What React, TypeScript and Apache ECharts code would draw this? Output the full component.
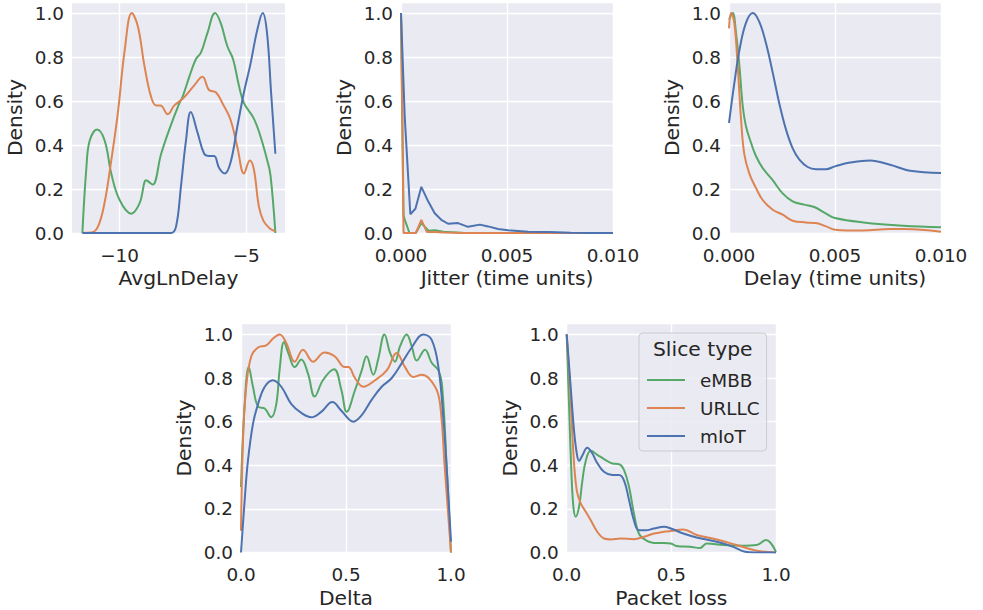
import React, { useEffect, useRef } from "react";
import * as echarts from "echarts";

// ---------- data ----------
const sliceTypes = ["eMBB", "URLLC", "mIoT"];
const sliceColors = ["#55A868", "#DD8452", "#4C72B0"];

const axisTitles = ["AvgLnDelay", "Jitter (time units)", "Delay (time units)", "Delta", "Packet loss"];
const yTitle = "Density";
const avgLnDelayTicks = [-10, -5];

const avgLnDelayEMBB = [
  [-11.47, 0], [-11.31, 0.3], [-11.18, 0.42], [-10.89, 0.47], [-10.59, 0.42], [-10.33, 0.27],
  [-10.0, 0.15], [-9.54, 0.088], [-9.21, 0.136], [-8.95, 0.24], [-8.82, 0.23], [-8.69, 0.22],
  [-8.36, 0.36], [-8.04, 0.47], [-7.64, 0.59], [-7.51, 0.62], [-7.25, 0.71], [-6.99, 0.79],
  [-6.79, 0.82], [-6.53, 0.91], [-6.23, 1.0], [-6.01, 0.955], [-5.75, 0.85], [-5.52, 0.79],
  [-5.29, 0.67], [-5.09, 0.59], [-4.7, 0.52], [-4.44, 0.44], [-4.17, 0.33], [-4.04, 0.26], [-3.85, 0],
];
const avgLnDelayURLLC = [
  [-11.47, 0], [-11.11, 0.002], [-10.85, 0.03], [-10.59, 0.14], [-10.33, 0.33], [-10.07, 0.545],
  [-9.8, 0.83], [-9.52, 1.0], [-9.28, 0.94], [-9.02, 0.76], [-8.76, 0.62], [-8.56, 0.58],
  [-8.39, 0.58], [-8.1, 0.54], [-7.84, 0.58], [-7.51, 0.61], [-7.06, 0.67], [-6.73, 0.71],
  [-6.47, 0.65], [-6.2, 0.64], [-5.94, 0.59], [-5.62, 0.515], [-5.35, 0.39], [-5.09, 0.27],
  [-4.86, 0.33], [-4.7, 0.29], [-4.5, 0.12], [-4.31, 0.053], [-4.04, 0.018], [-3.85, 0.008],
];
const avgLnDelayMIoT = [
  [-11.47, 0], [-7.97, 0], [-7.77, 0.03], [-7.58, 0.21], [-7.38, 0.42], [-7.19, 0.55],
  [-6.92, 0.455], [-6.66, 0.36], [-6.47, 0.35], [-6.27, 0.35], [-6.07, 0.295], [-5.85, 0.27],
  [-5.62, 0.32], [-5.35, 0.485], [-5.09, 0.64], [-4.83, 0.77], [-4.57, 0.92], [-4.35, 1.0],
  [-4.18, 0.91], [-4.02, 0.64], [-3.85, 0.36],
];

const jitterEMBB = [
  [0, 1.0], [0.00012, 0.08], [0.00018, 0.06], [0.0004, 0], [0.0007, 0], [0.00096, 0.045],
  [0.0013, 0.01], [0.0016, 0.012], [0.002, 0.006], [0.003, 0], [0.01, 0],
];
const jitterURLLC = [
  [0, 1.0], [0.00012, 0], [0.0007, 0], [0.00096, 0.06], [0.00122, 0.005], [0.0016, 0.004],
  [0.002, 0.002], [0.003, 0], [0.01, 0],
];
const jitterMIoT = [
  [0, 1.0], [0.000175, 0.53], [0.00044, 0.085], [0.00068, 0.11], [0.00096, 0.21], [0.00128, 0.144],
  [0.00159, 0.09], [0.0019, 0.06], [0.00222, 0.042], [0.00269, 0.045], [0.00316, 0.028],
  [0.00372, 0.038], [0.00411, 0.03], [0.00458, 0.018], [0.00505, 0.012], [0.006, 0.006],
  [0.007, 0.004], [0.008, 0.001], [0.009, 0], [0.01, 0],
];

const delayEMBB = [
  [0, 0.97], [0.000173, 1.0], [0.00033, 0.91], [0.00049, 0.76], [0.00065, 0.575], [0.0008, 0.485],
  [0.00104, 0.41], [0.00127, 0.35], [0.00159, 0.295], [0.00206, 0.24], [0.00253, 0.18],
  [0.003, 0.144], [0.00355, 0.129], [0.00402, 0.118], [0.00458, 0.088], [0.005, 0.068],
  [0.00634, 0.048], [0.00821, 0.033], [0.01, 0.026],
];
const delayURLLC = [
  [0, 0.93], [0.0001, 1.0], [0.00025, 0.955], [0.00041, 0.76], [0.00057, 0.515], [0.00072, 0.36],
  [0.00096, 0.27], [0.00127, 0.205], [0.00159, 0.15], [0.00206, 0.106], [0.00253, 0.083],
  [0.003, 0.056], [0.00363, 0.048], [0.0041, 0.045], [0.00458, 0.03], [0.005, 0.015],
  [0.0063, 0.011], [0.0076, 0.018], [0.0083, 0.018], [0.01, 0.006],
];
const delayMIoT = [
  [0, 0.5], [0.00025, 0.68], [0.00049, 0.83], [0.0008, 0.955], [0.00112, 1.0], [0.00143, 0.96],
  [0.00175, 0.86], [0.00206, 0.73], [0.00237, 0.59], [0.00269, 0.47], [0.003, 0.386],
  [0.00332, 0.333], [0.00371, 0.3], [0.0041, 0.29], [0.00457, 0.29], [0.005, 0.303],
  [0.00571, 0.32], [0.00665, 0.33], [0.0076, 0.31], [0.00854, 0.283], [0.01, 0.273],
];

const deltaEMBB = [
  [0, 0.3], [0.0175, 0.68], [0.037, 0.85], [0.057, 0.76], [0.081, 0.67], [0.113, 0.66],
  [0.144, 0.62], [0.168, 0.68], [0.184, 0.84], [0.205, 0.965], [0.227, 0.91], [0.256, 0.85],
  [0.287, 0.885], [0.319, 0.82], [0.351, 0.715], [0.39, 0.79], [0.443, 0.84], [0.478, 0.745],
  [0.503, 0.645], [0.543, 0.745], [0.575, 0.835], [0.598, 0.9], [0.63, 0.815], [0.654, 0.89],
  [0.683, 1.0], [0.71, 0.915], [0.733, 0.875], [0.757, 0.945], [0.789, 1.0], [0.813, 0.945],
  [0.837, 0.88], [0.876, 0.93], [0.908, 0.87], [0.94, 0.835], [0.958, 0.76], [0.98, 0.38], [1.0, 0],
];
const deltaURLLC = [
  [0, 0.1], [0.01, 0.53], [0.025, 0.76], [0.049, 0.9], [0.081, 0.94], [0.12, 0.95], [0.152, 0.98],
  [0.184, 1.0], [0.216, 0.96], [0.256, 0.875], [0.295, 0.93], [0.343, 0.875], [0.398, 0.917],
  [0.446, 0.9], [0.494, 0.85], [0.511, 0.85], [0.543, 0.8], [0.582, 0.76], [0.638, 0.79],
  [0.694, 0.835], [0.741, 0.915], [0.781, 0.85], [0.821, 0.805], [0.86, 0.815], [0.924, 0.76],
  [0.948, 0.68], [0.971, 0.38], [1.0, 0],
];
const deltaMIoT = [
  [0, 0.0], [0.0175, 0.24], [0.033, 0.42], [0.057, 0.59], [0.081, 0.68], [0.113, 0.76],
  [0.152, 0.79], [0.192, 0.76], [0.24, 0.68], [0.287, 0.64], [0.335, 0.62], [0.382, 0.645],
  [0.435, 0.69], [0.478, 0.65], [0.535, 0.6], [0.575, 0.63], [0.622, 0.7], [0.67, 0.76],
  [0.718, 0.8], [0.765, 0.867], [0.813, 0.94], [0.868, 1.0], [0.908, 0.975], [0.94, 0.85],
  [0.964, 0.61], [0.98, 0.38], [1.0, 0.05],
];

const packetLossEMBB = [
  [0, 1.0], [0.011, 0.68], [0.022, 0.38], [0.032, 0.21], [0.043, 0.164], [0.059, 0.21],
  [0.075, 0.33], [0.091, 0.42], [0.115, 0.466], [0.146, 0.448], [0.186, 0.424], [0.218, 0.408],
  [0.25, 0.405], [0.274, 0.378], [0.298, 0.3], [0.321, 0.18], [0.345, 0.087], [0.377, 0.057],
  [0.417, 0.044], [0.465, 0.044], [0.498, 0.041], [0.525, 0.03], [0.589, 0.026], [0.637, 0.021],
  [0.669, 0.041], [0.748, 0.034], [0.844, 0.031], [0.908, 0.034], [0.952, 0.057], [1.0, 0.003],
];
const packetLossURLLC = [
  [0, 1.0], [0.016, 0.76], [0.032, 0.455], [0.048, 0.285], [0.067, 0.225], [0.091, 0.187],
  [0.115, 0.148], [0.146, 0.095], [0.178, 0.064], [0.21, 0.06], [0.258, 0.064], [0.321, 0.061],
  [0.369, 0.072], [0.417, 0.087], [0.465, 0.095], [0.498, 0.099], [0.557, 0.106], [0.621, 0.08],
  [0.717, 0.06], [0.812, 0.034], [0.908, 0.008], [1.0, 0],
];
const packetLossMIoT = [
  [0, 1.0], [0.019, 0.76], [0.035, 0.56], [0.048, 0.455], [0.059, 0.42], [0.075, 0.445],
  [0.098, 0.48], [0.122, 0.455], [0.146, 0.41], [0.178, 0.37], [0.218, 0.355], [0.25, 0.355],
  [0.274, 0.33], [0.298, 0.24], [0.321, 0.148], [0.345, 0.102], [0.377, 0.102], [0.417, 0.11],
  [0.465, 0.118], [0.498, 0.11], [0.557, 0.087], [0.621, 0.069], [0.717, 0.049], [0.796, 0.026],
  [0.852, 0.003], [0.9, 0], [1.0, 0],
];

const panelData = [
  [avgLnDelayEMBB, avgLnDelayURLLC, avgLnDelayMIoT],
  [jitterEMBB, jitterURLLC, jitterMIoT],
  [delayEMBB, delayURLLC, delayMIoT],
  [deltaEMBB, deltaURLLC, deltaMIoT],
  [packetLossEMBB, packetLossURLLC, packetLossMIoT],
];

// ---------- layout / style ----------
const TEXT = "#262626";
const FONT = "DejaVu Sans";
const TICK_SIZE = 18.4;
const LABEL_SIZE = 20.3;

const grids = [
  { left: 72, top: 2, width: 213, height: 231 },
  { left: 401, top: 2, width: 212, height: 231 },
  { left: 729, top: 2, width: 212, height: 231 },
  { left: 241, top: 323.5, width: 210, height: 229 },
  { left: 566.7, top: 323.5, width: 209.3, height: 229 },
];

const fmtMinus = (v: number, d: number) => {
  const s = Math.abs(v).toFixed(d);
  return v < -1e-12 ? "\u2212" + s : s;
};

function App() {
  const ref = useRef<HTMLDivElement>(null);

  useEffect(() => {
    if (!ref.current) return;
    const chart = echarts.init(ref.current, null, { renderer: "svg" });

    const xAxes: any[] = [];
    const yAxes: any[] = [];
    const series: any[] = [];

    const xCfg = [
      { min: -11.88, max: -3.47, custom: avgLnDelayTicks, d: 0 },
      { min: 0, max: 0.01, interval: 0.005, d: 3 },
      { min: 0, max: 0.01, interval: 0.005, d: 3 },
      { min: 0, max: 1, interval: 0.5, d: 1 },
      { min: 0, max: 1, interval: 0.5, d: 1 },
    ];

    grids.forEach((g, i) => {
      const c: any = xCfg[i];
      const xa: any = {
        type: "value",
        gridIndex: i,
        min: c.min,
        max: c.max,
        name: axisTitles[i],
        nameLocation: "middle",
        nameGap: 35,
        nameTextStyle: { color: TEXT, fontSize: LABEL_SIZE, fontFamily: FONT },
        axisLine: { show: false },
        axisTick: { show: false },
        axisLabel: {
          color: TEXT,
          fontSize: TICK_SIZE,
          fontFamily: FONT,
          margin: 13,
          formatter: (v: number) => {
            if (c.custom) {
              return c.custom.some((t: number) => Math.abs(t - v) < 1e-6) ? fmtMinus(v, c.d) : "";
            }
            return fmtMinus(v, c.d);
          },
        },
        splitLine: { show: true, lineStyle: { color: "#ffffff", width: 1.4 } },
      };
      if (c.interval) xa.interval = c.interval;
      if (c.custom) {
        xa.axisTick = { show: false, customValues: c.custom };
        xa.axisLabel.customValues = c.custom;
      }
      xAxes.push(xa);

      yAxes.push({
        type: "value",
        gridIndex: i,
        min: 0,
        max: 1.05,
        interval: 0.2,
        name: yTitle,
        nameLocation: "middle",
        nameRotate: 90,
        nameGap: 47,
        nameTextStyle: { color: TEXT, fontSize: LABEL_SIZE, fontFamily: FONT },
        axisLine: { show: false },
        axisTick: { show: false },
        axisLabel: {
          color: TEXT,
          fontSize: TICK_SIZE,
          fontFamily: FONT,
          margin: 8,
          formatter: (v: number) => (v > 1.001 ? "" : v.toFixed(1)),
        },
        splitLine: { show: true, lineStyle: { color: "#ffffff", width: 1.4 } },
      });

      panelData[i].forEach((d, k) => {
        series.push({
          type: "line",
          name: sliceTypes[k],
          xAxisIndex: i,
          yAxisIndex: i,
          data: d,
          symbol: "none",
          showSymbol: false,
          smooth: i === 1 ? false : 0.4,
          clip: true,
          lineStyle: { width: 2, color: sliceColors[k] },
          itemStyle: { color: sliceColors[k] },
          z: 2 + k,
        });
      });
    });

    chart.setOption({
      animation: false,
      backgroundColor: "#ffffff",
      textStyle: { fontFamily: FONT },
      grid: grids.map((g) => ({
        ...g,
        show: true,
        backgroundColor: "#EAEAF2",
        borderWidth: 0,
        containLabel: false,
      })),
      xAxis: xAxes,
      yAxis: yAxes,
      series,
      legend: {
        data: sliceTypes,
        orient: "vertical",
        left: 639,
        top: 333,
        padding: [37, 7, 5, 8],
        itemGap: 8,
        itemWidth: 38,
        itemHeight: 2,
        icon: "rect",
        backgroundColor: "rgba(234,234,242,0.85)",
        borderColor: "#cccccc",
        borderWidth: 1,
        borderRadius: 4,
        selectedMode: false,
        textStyle: {
          color: TEXT,
          fontSize: TICK_SIZE,
          fontFamily: FONT,
          lineHeight: 20,
          padding: [0, 0, 0, 10],
        },
      },
      graphic: [
        {
          type: "text",
          left: 703 - 50,
          top: 339,
          z: 100,
          style: {
            text: "Slice type",
            x: 0,
            y: 0,
            width: 100,
            align: "center",
            fill: TEXT,
            fontSize: LABEL_SIZE,
            fontFamily: FONT,
          },
        },
      ],
    });

    return () => chart.dispose();
  }, []);

  return (
    <div
      ref={ref}
      style={{ position: "absolute", left: 0, top: 0, width: 983, height: 610 }}
    />
  );
}

export default App;
